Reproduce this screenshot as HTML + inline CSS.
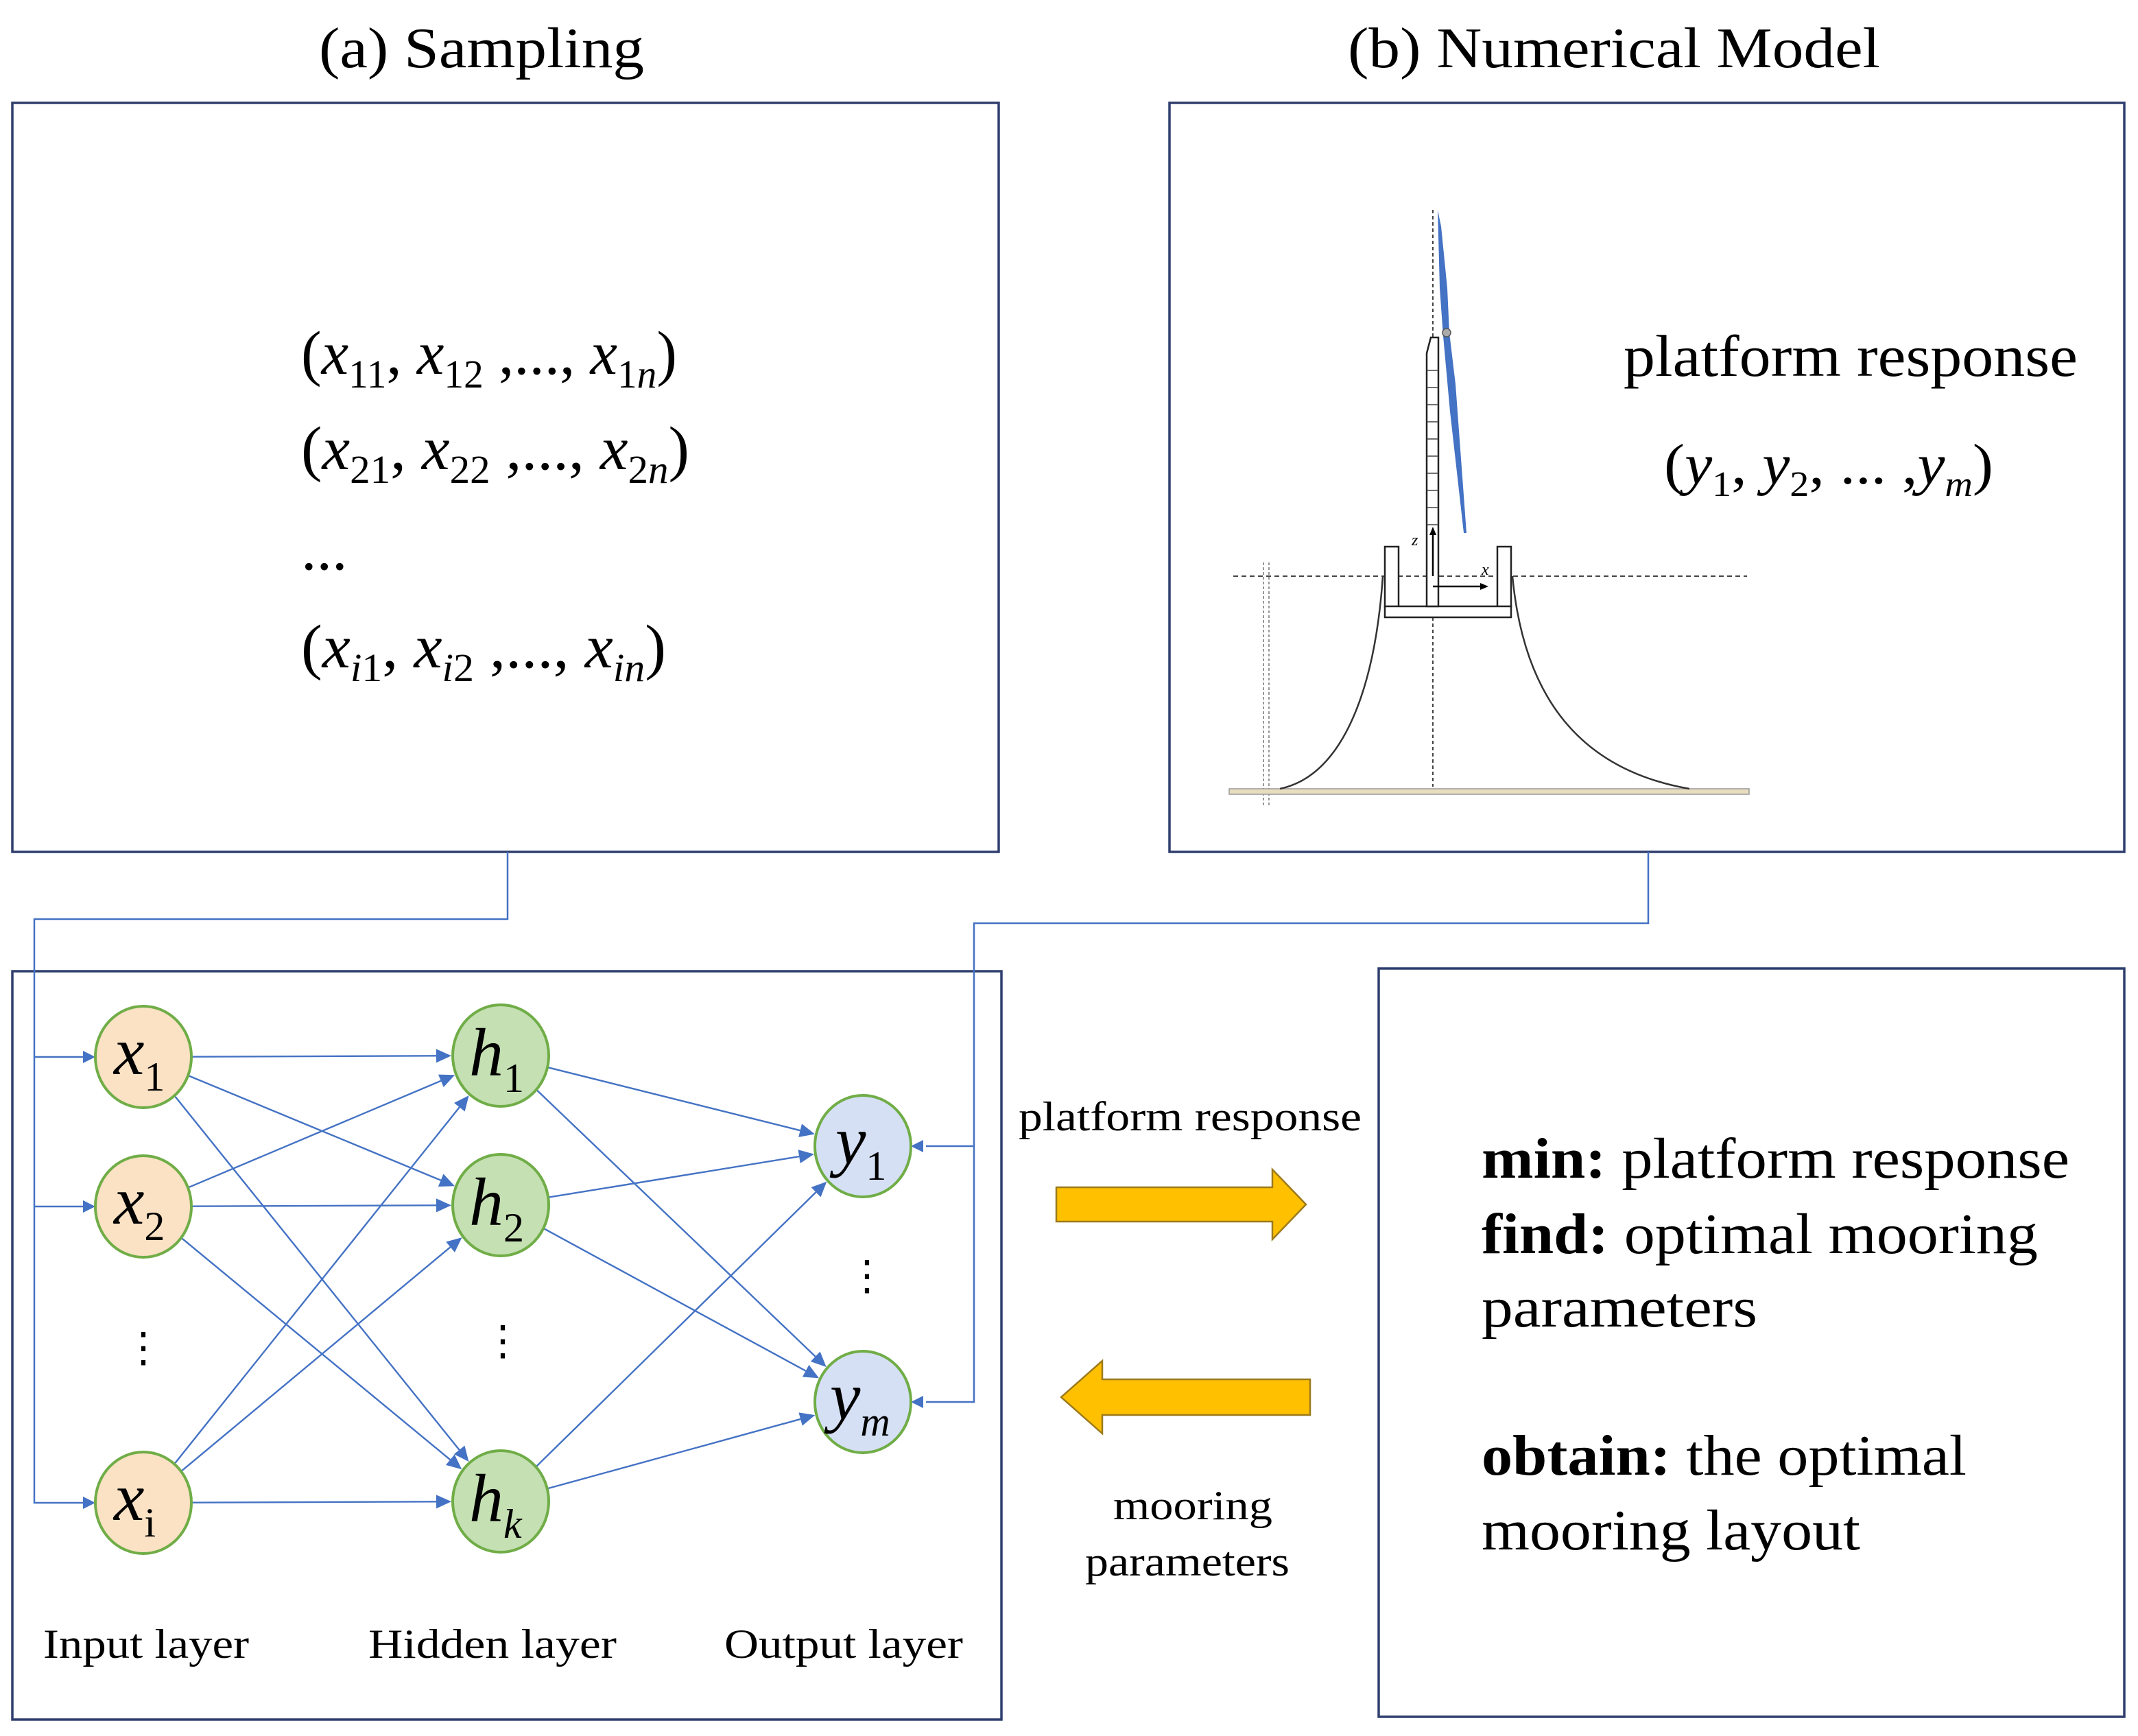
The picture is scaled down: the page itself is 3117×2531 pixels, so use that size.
<!DOCTYPE html>
<html><head><meta charset="utf-8"><style>
html,body{margin:0;padding:0;background:#fff;}
svg{display:block;}
text{font-family:"Liberation Serif","Times New Roman",serif;fill:#000;}
</style></head><body>
<svg id="s" width="3117" height="2531" viewBox="0 0 3117 2531" xmlns="http://www.w3.org/2000/svg">
<rect width="3117" height="2531" fill="#fff"/>
<text x="702" y="98" font-size="84" text-anchor="middle" textLength="474" lengthAdjust="spacingAndGlyphs">(a) Sampling</text>
<text x="2353" y="98" font-size="84" text-anchor="middle" textLength="776" lengthAdjust="spacingAndGlyphs">(b) Numerical Model</text>
<g fill="none" stroke="#2f3e6e" stroke-width="3.5">
<rect x="18" y="150" width="1438" height="1092"/>
<rect x="1705" y="150" width="1392" height="1092"/>
<rect x="18" y="1416" width="1442" height="1091"/>
<rect x="2010" y="1412" width="1087" height="1091"/>
</g>
<g font-size="90">
<text x="439" y="545" textLength="548" lengthAdjust="spacingAndGlyphs"><tspan>(</tspan><tspan font-style="italic">x</tspan><tspan font-size="58" dy="20">11</tspan><tspan dy="-20">, </tspan><tspan font-style="italic">x</tspan><tspan font-size="58" dy="20">12</tspan><tspan dy="-20"> ,..., </tspan><tspan font-style="italic">x</tspan><tspan font-size="58" dy="20">1</tspan><tspan font-size="58" font-style="italic">n</tspan><tspan dy="-20">)</tspan></text>
<text x="439" y="684" textLength="566" lengthAdjust="spacingAndGlyphs"><tspan>(</tspan><tspan font-style="italic">x</tspan><tspan font-size="58" dy="20">21</tspan><tspan dy="-20">, </tspan><tspan font-style="italic">x</tspan><tspan font-size="58" dy="20">22</tspan><tspan dy="-20"> ,..., </tspan><tspan font-style="italic">x</tspan><tspan font-size="58" dy="20">2</tspan><tspan font-size="58" font-style="italic">n</tspan><tspan dy="-20">)</tspan></text>
<text x="439" y="830">...</text>
<text x="439" y="973" textLength="532" lengthAdjust="spacingAndGlyphs"><tspan>(</tspan><tspan font-style="italic">x</tspan><tspan font-size="58" dy="20" font-style="italic">i</tspan><tspan font-size="58">1</tspan><tspan dy="-20">, </tspan><tspan font-style="italic">x</tspan><tspan font-size="58" dy="20" font-style="italic">i</tspan><tspan font-size="58">2</tspan><tspan dy="-20"> ,..., </tspan><tspan font-style="italic">x</tspan><tspan font-size="58" dy="20" font-style="italic">in</tspan><tspan dy="-20">)</tspan></text>
</g>
<text x="2698" y="548" font-size="86" text-anchor="middle" textLength="662" lengthAdjust="spacingAndGlyphs">platform response</text>
<text x="2666" y="705" font-size="84" text-anchor="middle" textLength="480" lengthAdjust="spacingAndGlyphs"><tspan>(</tspan><tspan font-style="italic">y</tspan><tspan font-size="52" dy="18">1</tspan><tspan dy="-18">, </tspan><tspan font-style="italic">y</tspan><tspan font-size="52" dy="18">2</tspan><tspan dy="-18">, ... ,</tspan><tspan font-style="italic">y</tspan><tspan font-size="52" dy="18" font-style="italic">m</tspan><tspan dy="-18">)</tspan></text>
<g fill="none" stroke="#444" stroke-width="2">
<line x1="2089" y1="306" x2="2089" y2="1147" stroke-dasharray="5,4"/>
<line x1="1798" y1="840" x2="2547" y2="840" stroke-dasharray="7,5"/>
<line x1="1842" y1="820" x2="1842" y2="1175" stroke="#999" stroke-dasharray="4,3"/>
<line x1="1850" y1="820" x2="1850" y2="1175" stroke="#999" stroke-dasharray="4,3"/>
<rect x="1792" y="1150" width="758" height="8" fill="#e9ddc0" stroke="#999" stroke-width="1.5"/>
<rect x="2019" y="797" width="20" height="88" fill="#fff" stroke="#222" stroke-width="2.5"/>
<rect x="2183" y="797" width="20" height="88" fill="#fff" stroke="#222" stroke-width="2.5"/>
<rect x="2019" y="884" width="184" height="16" fill="#fff" stroke="#222" stroke-width="2.5"/>
<path d="M2080 884 L2080 515 L2086 492 L2097 492 L2097 884 Z" fill="#fff" stroke="#222" stroke-width="2.5"/>
<path d="M2016 840 C2005 1000 1960 1130 1866 1150" stroke="#333" stroke-width="2.5"/>
<path d="M2205 840 C2220 1000 2290 1120 2463 1150" stroke="#333" stroke-width="2.5"/>
<line x1="2089" y1="840" x2="2089" y2="775" stroke="#000" stroke-width="2.5"/>
<line x1="2089" y1="855" x2="2162" y2="855" stroke="#000" stroke-width="2.5"/>
</g>
<g stroke="#444" stroke-width="1.5">
<line x1="2080" y1="540" x2="2097" y2="540"/><line x1="2080" y1="565" x2="2097" y2="565"/><line x1="2080" y1="590" x2="2097" y2="590"/><line x1="2080" y1="615" x2="2097" y2="615"/><line x1="2080" y1="640" x2="2097" y2="640"/><line x1="2080" y1="665" x2="2097" y2="665"/><line x1="2080" y1="690" x2="2097" y2="690"/><line x1="2080" y1="715" x2="2097" y2="715"/><line x1="2080" y1="740" x2="2097" y2="740"/><line x1="2080" y1="765" x2="2097" y2="765"/>
</g>
<polygon points="2096,306 2101,330 2110,420 2113,485 2122,560 2138,777 2134,777 2114,600 2104,490 2099,420" fill="#4472c4"/>
<circle cx="2109" cy="485" r="6" fill="#aaa" stroke="#555" stroke-width="1.5"/>
<polygon points="2089,768 2084,780 2094,780" fill="#000"/>
<polygon points="2170,855 2158,850 2158,860" fill="#000"/>
<text x="2058" y="795" font-size="24" font-style="italic">z</text>
<text x="2160" y="838" font-size="24" font-style="italic">x</text>
<g fill="none" stroke="#4472c4" stroke-width="2.5">
<polyline points="740,1242 740,1340 50,1340 50,2191 125,2191"/>
<line x1="50" y1="1541" x2="125" y2="1541"/>
<line x1="50" y1="1759" x2="125" y2="1759"/>
<polyline points="2403,1242 2403,1346 1420,1346 1420,2044 1350,2044"/>
<line x1="1420" y1="1671" x2="1350" y2="1671"/>
</g>
<g fill="#4472c4">
<polygon points="139,1541 121,1532 121,1550"/>
<polygon points="139,1759 121,1750 121,1768"/>
<polygon points="139,2191 121,2182 121,2200"/>
<polygon points="1328,1671 1346,1662 1346,1680"/>
<polygon points="1328,2044 1346,2035 1346,2053"/>
</g>
<g id="edges" fill="none" stroke="#4472c4" stroke-width="2.4"></g>
<g id="heads" fill="#4472c4"></g>
<g stroke="#70ad47" stroke-width="4">
<ellipse cx="209" cy="1541" rx="70" ry="74" fill="#fbe2c4"/>
<ellipse cx="209" cy="1759" rx="70" ry="74" fill="#fbe2c4"/>
<ellipse cx="209" cy="2191" rx="70" ry="74" fill="#fbe2c4"/>
<ellipse cx="730" cy="1539" rx="70" ry="74" fill="#c5e0b3"/>
<ellipse cx="730" cy="1757" rx="70" ry="74" fill="#c5e0b3"/>
<ellipse cx="730" cy="2189" rx="70" ry="74" fill="#c5e0b3"/>
<ellipse cx="1258" cy="1671" rx="70" ry="74" fill="#d6e0f5"/>
<ellipse cx="1258" cy="2044" rx="70" ry="74" fill="#d6e0f5"/>
</g>
<g font-size="100" font-style="italic">
<text x="166" y="1566">x<tspan font-size="60" font-style="normal" dy="24">1</tspan></text>
<text x="166" y="1784">x<tspan font-size="60" font-style="normal" dy="24">2</tspan></text>
<text x="166" y="2216">x<tspan font-size="60" font-style="normal" dy="24">i</tspan></text>
<text x="684" y="1568">h<tspan font-size="60" font-style="normal" dy="24">1</tspan></text>
<text x="684" y="1786">h<tspan font-size="60" font-style="normal" dy="24">2</tspan></text>
<text x="684" y="2218">h<tspan font-size="60" dy="24">k</tspan></text>
<text x="1218" y="1696">y<tspan font-size="60" font-style="normal" dy="24">1</tspan></text>
<text x="1210" y="2069">y<tspan font-size="60" dy="24">m</tspan></text>
</g>
<g font-size="60" text-anchor="middle">
<text x="209" y="1985">⋮</text>
<text x="733" y="1975">⋮</text>
<text x="1264" y="1880">⋮</text>
</g>
<g font-size="60" text-anchor="middle">
<text x="213" y="2417" textLength="300" lengthAdjust="spacingAndGlyphs">Input layer</text>
<text x="718" y="2417" textLength="362" lengthAdjust="spacingAndGlyphs">Hidden layer</text>
<text x="1230" y="2417" textLength="348" lengthAdjust="spacingAndGlyphs">Output layer</text>
</g>
<text x="1735" y="1648" font-size="60" text-anchor="middle" textLength="500" lengthAdjust="spacingAndGlyphs">platform  response</text>
<polygon points="1540,1731 1855,1731 1855,1705 1904,1756 1855,1807 1855,1781 1540,1781" fill="#ffc000" stroke="#9c7a1c" stroke-width="2.5"/>
<polygon points="1910,2011 1607,2011 1607,1984 1547,2037 1607,2090 1607,2063 1910,2063" fill="#ffc000" stroke="#9c7a1c" stroke-width="2.5"/>
<text x="1739" y="2215" font-size="60" text-anchor="middle" textLength="232" lengthAdjust="spacingAndGlyphs">mooring</text>
<text x="1731" y="2297" font-size="60" text-anchor="middle" textLength="298" lengthAdjust="spacingAndGlyphs">parameters</text>
<g font-size="84">
<text x="2160" y="1717" textLength="857" lengthAdjust="spacingAndGlyphs"><tspan font-weight="bold">min:</tspan> platform response</text>
<text x="2160" y="1827" textLength="811" lengthAdjust="spacingAndGlyphs"><tspan font-weight="bold">find:</tspan> optimal mooring</text>
<text x="2160" y="1934" textLength="402" lengthAdjust="spacingAndGlyphs">parameters</text>
<text x="2160" y="2150" textLength="707" lengthAdjust="spacingAndGlyphs"><tspan font-weight="bold">obtain:</tspan> the optimal</text>
<text x="2160" y="2259" textLength="552" lengthAdjust="spacingAndGlyphs">mooring layout</text>
</g>
</svg>
<script>
(function(){
var X=[[209,1541],[209,1759],[209,2191]],H=[[730,1539],[730,1757],[730,2189]],Y=[[1258,1671],[1258,2044]];
var ns="http://www.w3.org/2000/svg",E=document.getElementById("edges"),A=document.getElementById("heads");
function bd(dx,dy){var l=Math.hypot(dx,dy),ux=dx/l,uy=dy/l;return [ux,uy,1/Math.sqrt(Math.pow(ux/70,2)+Math.pow(uy/74,2))];}
function edge(s,t){var b=bd(t[0]-s[0],t[1]-s[1]),ux=b[0],uy=b[1],r=b[2];
var x1=s[0]+ux*r,y1=s[1]+uy*r,tx=t[0]-ux*(r+2),ty=t[1]-uy*(r+2);
var bx=tx-ux*22,by=ty-uy*22;
var l=document.createElementNS(ns,"line");l.setAttribute("x1",x1);l.setAttribute("y1",y1);l.setAttribute("x2",bx);l.setAttribute("y2",by);E.appendChild(l);
var p=document.createElementNS(ns,"polygon");p.setAttribute("points",tx+","+ty+" "+(bx-uy*10)+","+(by+ux*10)+" "+(bx+uy*10)+","+(by-ux*10));A.appendChild(p);}
X.forEach(function(s){H.forEach(function(t){edge(s,t);});});
H.forEach(function(s){Y.forEach(function(t){edge(s,t);});});
})();
</script>
</body></html>
